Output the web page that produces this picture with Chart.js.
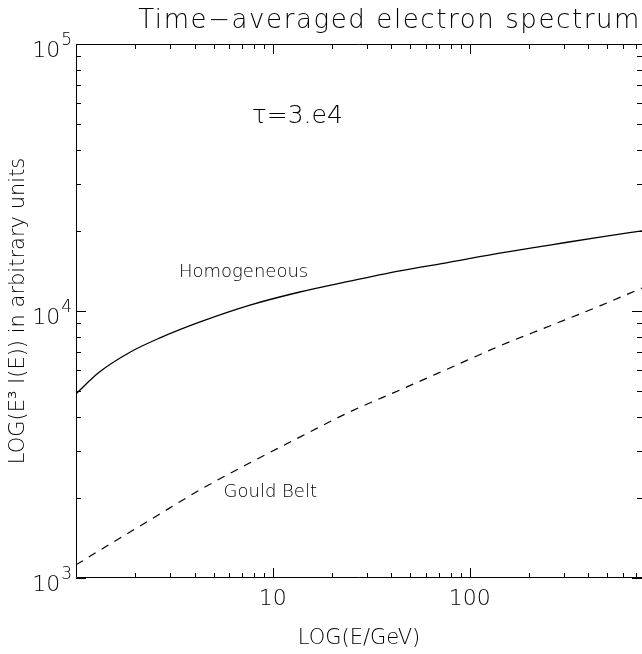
<!DOCTYPE html>
<html>
<head>
<meta charset="utf-8">
<script src="https://cdn.jsdelivr.net/npm/chart.js@4"></script>
<style>
  html, body { margin: 0; padding: 0; background: #fff; }
</style>
</head>
<body>
<canvas id="spectrumChart" width="642" height="654"></canvas>
<script>
// values (log-log)
const homogEnergy = [1.0, 1.32, 1.88, 2.67, 4.27, 7.65, 13.7, 24.6, 44.2, 79.3, 142, 255, 458, 750];
const homogFlux = [4900, 5920, 7010, 7930, 9100, 10520, 11780, 12940, 14130, 15240, 16480, 17660, 18920, 19950];
const gouldEnergy = [1.0, 1.32, 2.38, 4.27, 7.65, 13.7, 24.6, 44.2, 79.3, 142, 255, 458, 750];
const gouldFlux = [1120, 1270, 1650, 2140, 2700, 3370, 4190, 5060, 6120, 7400, 8790, 10450, 12190];

const xRange = [1, 750];
const yRange = [1e3, 1e5];
const xTickValues = [10, 100];
const xTickLabels = ['10', '100'];
const yTickValues = [1e3, 1e4, 1e5];
const yTickExponents = ['3', '4', '5'];

const FONT = '"DejaVu Sans", sans-serif';

// minor tick values for the log axes
const minorTicks = (lo, hi) => {
    const out = [];
    for (let d = 1; d <= 1e5; d *= 10) {
        for (let m = 2; m <= 9; m++) {
            const v = m * d;
            if (v > lo && v < hi) out.push(v);
        }
    }
    return out;
};

const toPoints = (xs, ys) => xs.map((x, i) => ({ x: x, y: ys[i] }));

const sameValue = (a, b) => Math.abs(a - b) < 1e-6 * b;

const frameAndText = {
    id: 'frameAndText',
    afterDraw(chart) {
        const { ctx, chartArea: a, scales: { x, y } } = chart;
        ctx.save();
        ctx.strokeStyle = '#000';
        ctx.lineWidth = 1;

        // left, top and bottom axis lines (right one falls off the picture)
        ctx.beginPath();
        ctx.moveTo(a.right, a.top + 0.5);
        ctx.lineTo(a.left + 0.5, a.top + 0.5);
        ctx.lineTo(a.left + 0.5, a.bottom - 0.5);
        ctx.lineTo(a.right, a.bottom - 0.5);
        ctx.stroke();

        // inward ticks on all four sides
        ctx.beginPath();
        const xTicks = xTickValues.map(v => [v, 10]).concat(minorTicks(xRange[0], xRange[1]).map(v => [v, 5]));
        for (const [v, len] of xTicks) {
            const px = Math.round(x.getPixelForValue(v)) + 0.5;
            ctx.moveTo(px, a.bottom);
            ctx.lineTo(px, a.bottom - len);
            ctx.moveTo(px, a.top);
            ctx.lineTo(px, a.top + len);
        }
        const yTicks = yTickValues.map(v => [v, 10]).concat(minorTicks(yRange[0], yRange[1]).map(v => [v, 5]));
        for (const [v, len] of yTicks) {
            const py = Math.round(y.getPixelForValue(v)) + 0.5;
            ctx.moveTo(a.left, py);
            ctx.lineTo(a.left + len, py);
            ctx.moveTo(a.right, py);
            ctx.lineTo(a.right - len, py);
        }
        ctx.stroke();

        ctx.fillStyle = '#000';

        // y tick labels: 10 with a raised exponent
        yTickValues.forEach((v, i) => {
            const py = y.getPixelForValue(v);
            ctx.font = '300 17px ' + FONT;
            ctx.textAlign = 'right';
            ctx.textBaseline = 'alphabetic';
            const expW = ctx.measureText(yTickExponents[i]).width;
            const right = a.left - 4;
            ctx.fillText(yTickExponents[i], right, py + 1);
            ctx.font = '300 22px ' + FONT;
            ctx.fillText('10', right - expW - 1, py + 13);
        });

        // title
        ctx.font = '300 26px ' + FONT;
        ctx.letterSpacing = '1.6px';
        ctx.textAlign = 'right';
        ctx.textBaseline = 'alphabetic';
        ctx.fillText('Time\u2212averaged electron spectrum', 641, 28);

        // curve annotations, anchored in data space
        ctx.letterSpacing = '0px';
        ctx.textAlign = 'center';
        ctx.textBaseline = 'middle';
        ctx.font = '300 18px ' + FONT;
        ctx.fillText('Homogeneous', x.getPixelForValue(7.1), y.getPixelForValue(14000));
        ctx.fillText('Gould Belt', x.getPixelForValue(9.7), y.getPixelForValue(2100));
        ctx.font = '300 25px ' + FONT;
        ctx.fillText('\u03c4=3.e4', x.getPixelForValue(13.3), y.getPixelForValue(53700));
        ctx.restore();
    }
};

const ctx = document.getElementById('spectrumChart').getContext('2d');

new Chart(ctx, {
    type: 'line',
    data: {
        datasets: [{
            label: 'Homogeneous',
            data: toPoints(homogEnergy, homogFlux),
            borderColor: '#000',
            borderWidth: 1.3,
            pointRadius: 0,
            cubicInterpolationMode: 'monotone',
            fill: false
        }, {
            label: 'Gould Belt',
            data: toPoints(gouldEnergy, gouldFlux),
            borderColor: '#000',
            borderWidth: 1.2,
            borderDash: [8, 7],
            pointRadius: 0,
            cubicInterpolationMode: 'monotone',
            fill: false
        }]
    },
    options: {
        responsive: false,
        animation: false,
        layout: { padding: { top: 44, left: 0, right: 0, bottom: 0 } },
        plugins: {
            legend: { display: false },
            tooltip: { enabled: false }
        },
        scales: {
            x: {
                type: 'logarithmic',
                min: xRange[0],
                max: xRange[1],
                grid: { display: false, drawTicks: false },
                border: { display: false },
                ticks: {
                    autoSkip: false,
                    maxRotation: 0,
                    padding: 8,
                    color: '#000',
                    font: { family: FONT, size: 22, weight: '300' },
                    callback: (v) => {
                        const i = xTickValues.findIndex(t => sameValue(v, t));
                        return i >= 0 ? xTickLabels[i] : '';
                    }
                },
                title: {
                    display: true,
                    text: 'LOG(E/GeV)',
                    color: '#000',
                    font: { family: FONT, size: 21, weight: '300' },
                    padding: { top: 0, bottom: 3 }
                },
                afterFit: (scale) => {
                    scale.height = 76;
                    scale.paddingLeft = 0;
                    scale.paddingRight = 0;
                }
            },
            y: {
                type: 'logarithmic',
                min: yRange[0],
                max: yRange[1],
                grid: { display: false, drawTicks: false },
                border: { display: false },
                ticks: { display: false },
                title: {
                    display: true,
                    text: 'LOG(E\u00b3 I(E)) in arbitrary units',
                    color: '#000',
                    font: { family: FONT, size: 21, weight: '300' },
                    padding: { top: 6, bottom: 0 }
                },
                afterFit: (scale) => {
                    scale.width = 76;
                    scale.paddingTop = 0;
                    scale.paddingBottom = 0;
                }
            }
        }
    },
    plugins: [frameAndText]
});
</script>
</body>
</html>
